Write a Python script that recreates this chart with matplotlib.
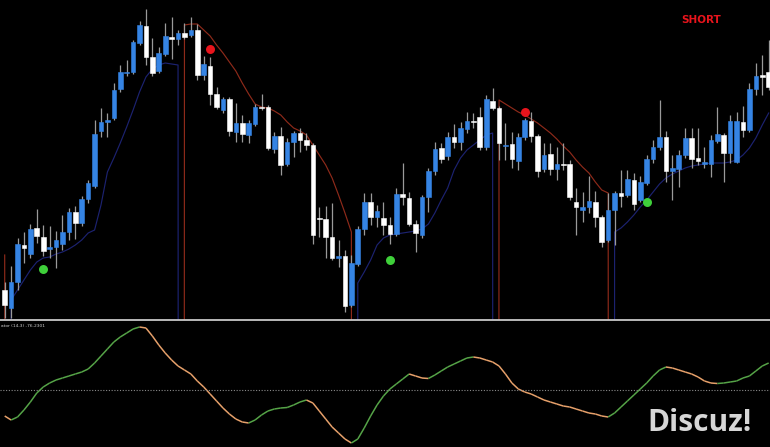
import matplotlib
matplotlib.use("Agg")
import matplotlib.pyplot as plt
from matplotlib.collections import LineCollection
import numpy as np

# candles, oldest first
opens = [1.3030, 1.3012, 1.3038, 1.3075, 1.3066, 1.3092, 1.3083, 1.3071, 1.3073, 1.3076,
         1.3088, 1.3108, 1.3097, 1.3121, 1.3134, 1.3189, 1.3198, 1.3202, 1.3231, 1.3247,
         1.3248, 1.3277, 1.3294, 1.3263, 1.3249, 1.3266, 1.3283, 1.3281, 1.3287, 1.3285,
         1.3290, 1.3245, 1.3254, 1.3226, 1.3210, 1.3221, 1.3188, 1.3197, 1.3185, 1.3196,
         1.3213, 1.3213, 1.3171, 1.3184, 1.3156, 1.3178, 1.3187, 1.3180, 1.3175, 1.3102,
         1.3101, 1.3083, 1.3062, 1.3064, 1.3015, 1.3056, 1.3091, 1.3118, 1.3103, 1.3102,
         1.3095, 1.3086, 1.3126, 1.3122, 1.3096, 1.3085, 1.3123, 1.3149, 1.3172, 1.3164,
         1.3183, 1.3178, 1.3191, 1.3199, 1.3203, 1.3173, 1.3219, 1.3212, 1.3174, 1.3176,
         1.3159, 1.3183, 1.3199, 1.3184, 1.3151, 1.3166, 1.3151, 1.3156, 1.3156, 1.3118,
         1.3110, 1.3113, 1.3118, 1.3103, 1.3080, 1.3110, 1.3127, 1.3125, 1.3140, 1.3120,
         1.3137, 1.3161, 1.3173, 1.3183, 1.3149, 1.3151, 1.3165, 1.3182, 1.3162, 1.3156,
         1.3156, 1.3179, 1.3185, 1.3167, 1.3158, 1.3198, 1.3190, 1.3231, 1.3245, 1.3248]
highs = [1.3038, 1.3054, 1.3082, 1.3088, 1.3096, 1.3111, 1.3095, 1.3094, 1.3089, 1.3105,
         1.3112, 1.3114, 1.3124, 1.3140, 1.3200, 1.3212, 1.3207, 1.3237, 1.3255, 1.3260,
         1.3280, 1.3299, 1.3311, 1.3282, 1.3273, 1.3297, 1.3303, 1.3290, 1.3297, 1.3303,
         1.3296, 1.3264, 1.3263, 1.3233, 1.3223, 1.3223, 1.3217, 1.3205, 1.3200, 1.3216,
         1.3226, 1.3215, 1.3188, 1.3193, 1.3182, 1.3189, 1.3192, 1.3187, 1.3177, 1.3113,
         1.3114, 1.3117, 1.3080, 1.3070, 1.3065, 1.3094, 1.3127, 1.3127, 1.3115, 1.3118,
         1.3103, 1.3132, 1.3157, 1.3128, 1.3100, 1.3125, 1.3152, 1.3178, 1.3177, 1.3188,
         1.3196, 1.3198, 1.3208, 1.3207, 1.3213, 1.3225, 1.3232, 1.3214, 1.3197, 1.3188,
         1.3187, 1.3202, 1.3208, 1.3186, 1.3177, 1.3177, 1.3173, 1.3177, 1.3160, 1.3132,
         1.3128, 1.3144, 1.3129, 1.3105, 1.3127, 1.3129, 1.3150, 1.3150, 1.3147, 1.3144,
         1.3165, 1.3180, 1.3220, 1.3189, 1.3165, 1.3170, 1.3192, 1.3192, 1.3192, 1.3173,
         1.3185, 1.3213, 1.3187, 1.3205, 1.3208, 1.3214, 1.3237, 1.3257, 1.3265, 1.3280]
lows = [1.3002, 1.3002, 1.3030, 1.3057, 1.3062, 1.3077, 1.3064, 1.3062, 1.3052, 1.3070,
        1.3080, 1.3081, 1.3094, 1.3117, 1.3132, 1.3183, 1.3183, 1.3200, 1.3228, 1.3244,
        1.3246, 1.3275, 1.3255, 1.3244, 1.3247, 1.3264, 1.3261, 1.3275, 1.3281, 1.3283,
        1.3240, 1.3240, 1.3215, 1.3211, 1.3207, 1.3184, 1.3178, 1.3178, 1.3177, 1.3194,
        1.3210, 1.3170, 1.3167, 1.3145, 1.3154, 1.3163, 1.3168, 1.3170, 1.3076, 1.3083,
        1.3062, 1.3060, 1.3053, 1.3008, 1.3013, 1.3054, 1.3085, 1.3095, 1.3093, 1.3085,
        1.3076, 1.3084, 1.3115, 1.3094, 1.3068, 1.3082, 1.3108, 1.3145, 1.3157, 1.3160,
        1.3172, 1.3170, 1.3187, 1.3192, 1.3170, 1.3170, 1.3210, 1.3160, 1.3160, 1.3152,
        1.3150, 1.3180, 1.3178, 1.3143, 1.3148, 1.3145, 1.3140, 1.3150, 1.3120, 1.3085,
        1.3098, 1.3107, 1.3093, 1.3073, 1.3078, 1.3075, 1.3113, 1.3123, 1.3110, 1.3118,
        1.3135, 1.3157, 1.3170, 1.3138, 1.3120, 1.3133, 1.3162, 1.3152, 1.3155, 1.3152,
        1.3143, 1.3177, 1.3138, 1.3157, 1.3157, 1.3183, 1.3188, 1.3225, 1.3225, 1.3230]
closes = [1.3015, 1.3038, 1.3076, 1.3072, 1.3091, 1.3084, 1.3069, 1.3073, 1.3080, 1.3088,
          1.3108, 1.3097, 1.3121, 1.3137, 1.3186, 1.3198, 1.3200, 1.3230, 1.3248, 1.3248,
          1.3278, 1.3295, 1.3263, 1.3247, 1.3267, 1.3284, 1.3281, 1.3287, 1.3283, 1.3290,
          1.3245, 1.3256, 1.3226, 1.3213, 1.3221, 1.3189, 1.3197, 1.3186, 1.3197, 1.3213,
          1.3212, 1.3172, 1.3184, 1.3155, 1.3178, 1.3187, 1.3180, 1.3175, 1.3085, 1.3101,
          1.3083, 1.3062, 1.3064, 1.3014, 1.3057, 1.3091, 1.3118, 1.3103, 1.3109, 1.3095,
          1.3086, 1.3126, 1.3123, 1.3096, 1.3087, 1.3123, 1.3149, 1.3171, 1.3161, 1.3183,
          1.3178, 1.3192, 1.3199, 1.3198, 1.3173, 1.3221, 1.3212, 1.3177, 1.3175, 1.3161,
          1.3183, 1.3200, 1.3184, 1.3149, 1.3165, 1.3151, 1.3156, 1.3155, 1.3123, 1.3113,
          1.3113, 1.3119, 1.3103, 1.3078, 1.3110, 1.3127, 1.3124, 1.3141, 1.3116, 1.3138,
          1.3161, 1.3173, 1.3183, 1.3149, 1.3152, 1.3165, 1.3182, 1.3161, 1.3159, 1.3158,
          1.3180, 1.3186, 1.3167, 1.3199, 1.3199, 1.3190, 1.3231, 1.3244, 1.3243, 1.3233]

# trailing stop buffers (start bar, values); empty bars are 0 like in MT4
support_segments = [
    (1, [1.3020, 1.3030, 1.3040, 1.3050, 1.3058, 1.3062, 1.3063, 1.3066, 1.3068, 1.3071,
         1.3075, 1.3080, 1.3087, 1.3090, 1.3115, 1.3148, 1.3162, 1.3177, 1.3193, 1.3210,
         1.3228, 1.3243, 1.3251, 1.3255, 1.3257, 1.3256, 1.3255]),
    (55, [1.3037, 1.3048, 1.3060, 1.3075, 1.3082, 1.3085, 1.3086, 1.3087, 1.3088, 1.3089,
          1.3091, 1.3096, 1.3107, 1.3120, 1.3132, 1.3150, 1.3162, 1.3170, 1.3175, 1.3180,
          1.3185, 1.3187]),
    (95, [1.3088, 1.3092, 1.3098, 1.3105, 1.3113, 1.3120, 1.3128, 1.3136, 1.3142, 1.3146,
          1.3149, 1.3152, 1.3154, 1.3155, 1.3156, 1.3157, 1.3157, 1.3157, 1.3158, 1.3160,
          1.3165, 1.3172, 1.3182, 1.3195, 1.3207]),
]
resist_segments = [
    (0, [1.3065]),
    (28, [1.3295, 1.3296, 1.3296, 1.3290, 1.3284, 1.3275, 1.3267, 1.3258, 1.3249, 1.3237,
          1.3226, 1.3216, 1.3213, 1.3212, 1.3209, 1.3205, 1.3198, 1.3192, 1.3189, 1.3185,
          1.3175, 1.3165, 1.3155, 1.3142, 1.3125, 1.3107, 1.3088]),
    (77, [1.3220, 1.3216, 1.3212, 1.3208, 1.3205, 1.3201, 1.3197, 1.3192, 1.3187, 1.3181,
          1.3174, 1.3168, 1.3160, 1.3153, 1.3147, 1.3138, 1.3130, 1.3127]),
]

buy_bars = [6, 60, 100]
buy_prices = [1.3051, 1.3060, 1.3118]
sell_bars = [32, 81]
sell_prices = [1.3271, 1.3208]

osc = [-26, -30, -27, -20, -12, -3, 3, 7, 10, 12,
       14, 16, 18, 21, 27, 34, 41, 48, 53, 57,
       61, 63, 62, 54, 45, 37, 30, 24, 20, 16,
       9, 3, -4, -11, -18, -24, -29, -32, -33, -30,
       -25, -21, -19, -18, -17.5, -15, -12, -10, -13, -21,
       -29, -37, -43, -49, -53, -49, -38, -26, -15, -6,
       1, 6, 11, 16, 14, 12, 11.5, 15, 19, 23,
       26, 29, 32, 33, 32, 30, 28, 24, 16, 7,
       1, -2, -4, -7, -10, -12, -14, -16, -17, -19,
       -21, -23, -24, -26, -27, -23, -17, -11, -5, 1,
       7, 14, 20, 23, 22, 20, 18, 16, 13, 9,
       7, 6.5, 7, 8, 9, 12, 14, 19, 24, 27]
osc_level = 0
osc_label = "ator (14,3) -76.2301"
signal_text = "SHORT"
watermark = "Discuz!"


def buffer(segments, n):
    out = np.zeros(n)
    for start, vals in segments:
        out[start:start + len(vals)] = vals
    return out


def main():
    n = len(opens)
    x = np.arange(n)
    o, h, l, c = map(np.array, (opens, highs, lows, closes))
    up = c >= o

    fig = plt.figure(figsize=(7.7, 4.47), dpi=100, facecolor="black")
    ax = fig.add_axes([0, 127 / 447, 1, 320 / 447], facecolor="black")
    ax2 = fig.add_axes([0, 0, 1, 127 / 447], facecolor="black")

    # candles
    ax.vlines(x, l, h, color="#9a9a9a", linewidth=0.9, zorder=2)
    body_lo = np.minimum(o, c)
    body_h = np.maximum(np.abs(c - o), 0.00008)
    colors = np.where(up, "#3584e4", "#ffffff")
    ax.bar(x, body_h, bottom=body_lo, width=0.72, color=colors,
           edgecolor=colors, linewidth=0.4, zorder=3)

    # trailing stop lines
    ax.plot(x, buffer(resist_segments, n), color="#8e2a1a", linewidth=0.85, zorder=1)
    ax.plot(x, buffer(support_segments, n), color="#1c2270", linewidth=0.85, zorder=1)

    ax.scatter(buy_bars, buy_prices, s=42, color="#3fd03a", zorder=4, linewidths=0)
    ax.scatter(sell_bars, sell_prices, s=42, color="#e8141c", zorder=4, linewidths=0)

    ax.set_xlim(-4.7 / 6.42, (770 - 4.7) / 6.42)
    ax.set_ylim(1.3000, 1.3320)
    ax.axis("off")

    fig.text(701 / 770, 1 - 20 / 447, signal_text, color="#e8141c", fontsize=7.5,
             fontweight="bold", ha="center", va="center")

    # oscillator
    pts = np.column_stack([x, osc])
    segs = np.stack([pts[:-1], pts[1:]], axis=1)
    rising = np.diff(osc) > 0
    seg_colors = np.where(rising, "#55a347", "#e6a06a")
    ax2.add_collection(LineCollection(segs, colors=seg_colors, linewidths=1.1))
    ax2.axhline(osc_level, color="#8a8a8a", linewidth=0.8, linestyle=(0, (1, 1.5)))
    ax2.set_xlim(ax.get_xlim())
    ax2.set_ylim(-57, 70)
    ax2.set_xticks([])
    ax2.set_yticks([])
    for side in ("left", "right", "bottom"):
        ax2.spines[side].set_visible(False)
    ax2.spines["top"].set_color("#c8c8c8")
    ax2.spines["top"].set_linewidth(1.3)
    ax2.text(0.001, 0.965, osc_label, transform=ax2.transAxes, color="#d0d0d0",
             fontsize=3.2, ha="left", va="top")

    fig.text(700 / 770, 1 - 423 / 447, watermark, color="#d6d6d6", fontsize=21.5,
             fontweight="bold", family=["Open Sans", "DejaVu Sans"],
             ha="center", va="center")

    fig.savefig("out.png", dpi=100, facecolor="black")


main()
